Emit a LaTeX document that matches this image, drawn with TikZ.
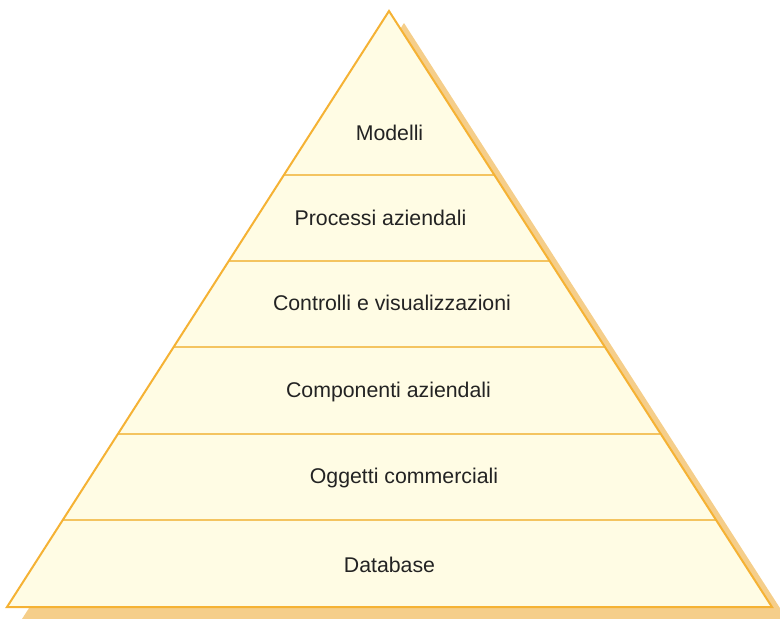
\documentclass[tikz,border=0pt]{standalone}
\usepackage{fontspec}
\setmainfont{Liberation Sans}
\usetikzlibrary{calc}
\definecolor{fillY}{RGB}{255,252,228}
\definecolor{edgeO}{RGB}{245,178,52}
\definecolor{lineO}{RGB}{244,196,96}
\definecolor{shadowO}{RGB}{245,206,138}
\definecolor{txt}{RGB}{35,35,35}
\begin{document}
\begin{tikzpicture}[x=1pt,y=-1pt,
  label/.style={anchor=base,inner sep=0pt,font=\fontsize{21.3}{25}\selectfont,text=txt},
  divider/.style={draw=lineO,line width=1.1pt},
  outline/.style={draw=edgeO,line width=2pt,line join=miter}]
\useasboundingbox (0,0) rectangle (780,619);
\coordinate (A) at (389,11);
\coordinate (L) at (7,607);
\coordinate (R) at (772,607);
% shadow
\fill[shadowO] ($(A)+(15,12)$) -- ($(L)+(15,12)$) -- ($(R)+(15,12)$) -- cycle;
% main
\fill[fillY] (A) -- (L) -- (R) -- cycle;
\foreach \y [count=\i] in {175,261,347,434,520}{
  \pgfmathsetmacro{\t}{(\y-11)/596}
  \coordinate (l\i) at ($(A)!\t!(L)$);
  \coordinate (r\i) at ($(A)!\t!(R)$);
  \draw[divider] (l\i) -- (r\i);
}
\draw[outline] (A) -- (L) -- (R) -- cycle;
\node[label] (t1) at (389.5,140) {Modelli};
\node[label] (t2) at (380.5,225) {Processi aziendali};
\node[label] (t3) at (392,310) {Controlli e visualizzazioni};
\node[label] (t4) at (388.5,397) {Componenti aziendali};
\node[label] (t5) at (404,483) {Oggetti commerciali};
\node[label] (t6) at (389.5,572) {Database};
\end{tikzpicture}
\end{document}
